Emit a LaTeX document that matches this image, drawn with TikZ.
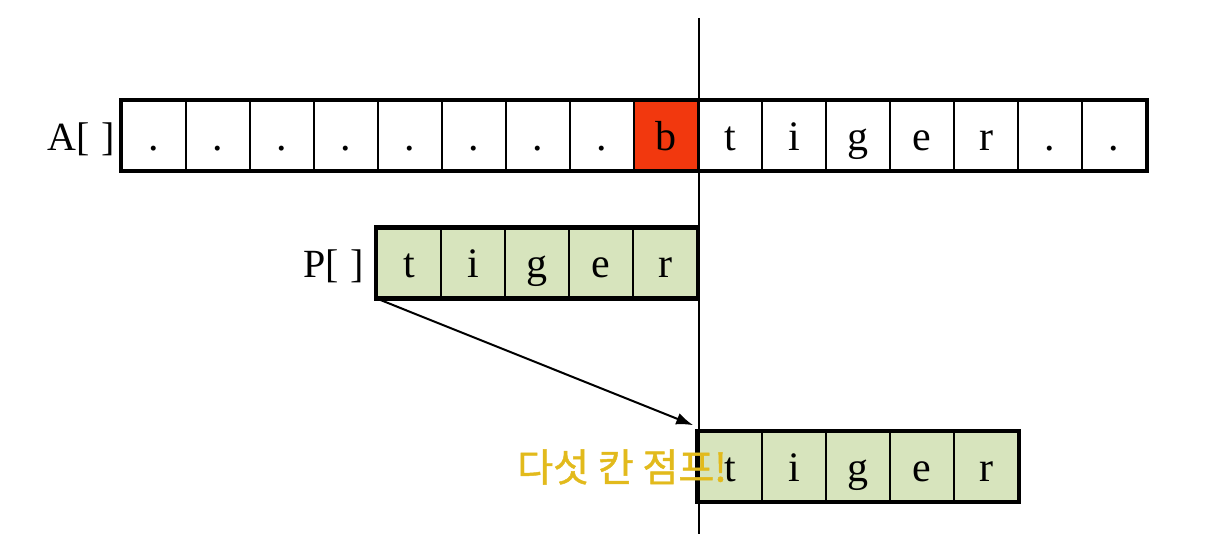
\documentclass[tikz,border=0pt]{standalone}
\usepackage{fontspec}
\setmainfont{Liberation Serif}
\newfontfamily\kr{Noto Sans CJK KR}[FakeBold=1.2]
\usetikzlibrary{arrows.meta}
\definecolor{cellgreen}{HTML}{D7E4BD}
\definecolor{cellred}{HTML}{F2380E}
\definecolor{gold}{HTML}{E2BA1C}
\tikzset{
  cell/.style={draw=black, line width=1.6pt, minimum width=64pt, minimum height=69pt,
    inner sep=0pt, text height=31pt, text depth=1pt, font=\fontsize{42}{44}\selectfont},
  whitecell/.style={cell, fill=white},
  greencell/.style={cell, fill=cellgreen},
  redcell/.style={cell, fill=cellred},
  frame/.style={draw=black, line width=4.5pt},
  arrlabel/.style={inner sep=0pt, text height=31pt, text depth=1pt, font=\fontsize{40}{44}\selectfont},
  guide/.style={draw=black, line width=1.2pt},
  jump/.style={draw=black, line width=2pt, -{Latex[length=17pt,width=12pt]}},
  krtext/.style={inner sep=0pt, font=\kr\fontsize{39}{44}\selectfont, text=gold},
}
\begin{document}
\begin{tikzpicture}[x=1pt,y=-1pt]
\useasboundingbox (0,0) rectangle (1225,534);
% A array
\foreach \c [count=\i] in {.,.,.,.,.,.,.,.,b,t,i,g,e,r,.,.} {
  \ifnum\i=9
    \node[redcell] (a\i) at ({122+32+64*(\i-1)},135.5) {\c};
  \else
    \node[whitecell] (a\i) at ({122+32+64*(\i-1)},135.5) {\c};
  \fi
}
\draw[frame] (a1.north west) rectangle (a16.south east);
\node[arrlabel, anchor=east] (alab) at ([xshift=-6pt]a1.west) {A[\hspace{0.3em}]};
% P array
\foreach \c [count=\i] in {t,i,g,e,r} {
  \node[greencell] (p\i) at ({377+32+64*(\i-1)},263) {\c};
}
\draw[frame] (p1.north west) rectangle (p5.south east);
\node[arrlabel, anchor=east] (plab) at ([xshift=-12pt]p1.west) {P[\hspace{0.3em}]};
% shifted P
\foreach \c [count=\i] in {t,i,g,e,r} {
  \node[greencell] (q\i) at ({698+32+64*(\i-1)},466.5) {\c};
}
\draw[frame] (q1.north west) rectangle (q5.south east);
% vertical guide
\coordinate (vtop) at (699,18);
\coordinate (vbot) at (699,534);
\draw[guide] (vtop) -- (vbot);
% arrow
\draw[jump] (p1.south west) -- ([xshift=-4pt,yshift=6pt]q1.north west);
% Korean label
\node[krtext, anchor=east] (kr) at (727,467) {다섯 칸 점프!};
\end{tikzpicture}
\end{document}
